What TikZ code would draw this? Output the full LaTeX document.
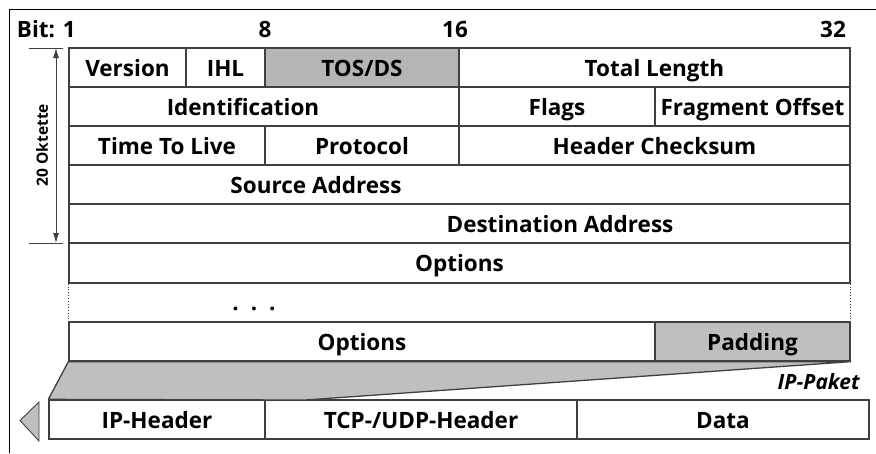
\documentclass[tikz,border=0pt]{standalone}
\usepackage{fontspec}
\setmainfont{Open Sans}
\usetikzlibrary{arrows.meta}
\definecolor{ln}{gray}{0.25}
\definecolor{gf}{gray}{0.75}
\definecolor{gt}{gray}{0.71}
\begin{document}
\begin{tikzpicture}[x=1pt,y=-1pt,
  every node/.style={font=\fontsize{22.5}{26}\selectfont\bfseries, inner sep=0pt},
  txt/.style={text height=17pt, text depth=0pt},
  cell/.style={txt, draw=ln, line width=1.3pt, minimum height=39pt},
  shaded/.style={fill=gf},
  tick/.style={draw=ln, line width=0.9pt}]
\useasboundingbox (0,0) rectangle (876,453);
\draw[line width=0.9pt] (9,453) -- (9,9) -- (876,9);
% bit labels
\node[txt, anchor=east] (b1) at (76,28.5) {Bit: 1};
\node[txt] (b8) at (265,28.5) {8};
\node[txt] (b16) at (455,28.5) {16};
\node[txt] (b32) at (833,28.5) {32};
% row 1
\node[cell, minimum width=117pt] (ver) at (127.5,67.5) {Version};
\node[cell, minimum width=79pt] (ihl) at (225.5,67.5) {IHL};
\node[cell, fill=gt, minimum width=194pt] (tos) at (362,67.5) {TOS/DS};
\node[cell, minimum width=391pt] (tl) at (654.5,67.5) {Total Length};
% row 2
\node[cell, minimum width=390pt] (id) at (264,106.5) {};
\node[txt] (idt) at (243,106.5) {Identification};
\node[cell, minimum width=196pt] (flags) at (557,106.5) {Flags};
\node[cell, minimum width=195pt] (frag) at (752.5,106.5) {Fragment Offset};
% row 3
\node[cell, minimum width=196pt] (ttl) at (167,145.5) {Time To Live};
\node[cell, minimum width=194pt] (proto) at (362,145.5) {Protocol};
\node[cell, minimum width=391pt] (hcs) at (654.5,145.5) {Header Checksum};
% row 4
\node[cell, minimum width=781pt] (src) at (459.5,184.5) {};
\node[txt] (srct) at (316,184.5) {Source Address};
% row 5
\node[cell, minimum width=781pt] (dst) at (459.5,223.5) {};
\node[txt] (dstt) at (560,223.5) {Destination Address};
% row 6
\node[cell, minimum width=781pt, minimum height=40pt] (opt) at (459.5,263) {Options};
% dotted region
\node (dots) at (254,309) {.\hspace{12pt}.\hspace{12pt}.};
% row 8
\node[cell, minimum width=586pt] (opt2) at (362,341.5) {Options};
\node[cell, shaded, minimum width=195pt] (pad) at (752.5,341.5) {Padding};
\draw[dotted, draw=ln, line width=0.9pt] (opt.south west) -- (opt2.north west);
\draw[dotted, draw=ln, line width=0.9pt] (opt.south east) -- (pad.north east);
% bottom row
\node[cell, minimum width=216pt] (iph) at (157,419.5) {IP-Header};
\node[cell, minimum width=312pt] (tcp) at (421,419.5) {TCP-/UDP-Header};
\node[cell, minimum width=292pt] (data) at (723,419.5) {Data};
% funnel
\coordinate (meet) at (305,400);
\draw[draw=ln, line width=1.3pt, fill=gf, line join=round] (opt2.south west) -- (pad.south east) -- (meet) -- (iph.north west) -- cycle;
\node[txt, anchor=east, font=\fontsize{21}{24}\selectfont\bfseries\itshape] (pak) at (860,380.5) {IP-Paket};
% left triangle
\draw[draw=ln, line width=0.9pt, fill=gf] (39,402) -- (20,420.5) -- (39,441) -- cycle;
% 20 Oktette
\coordinate (t1a) at (29,48);
\coordinate (t1b) at (63,48);
\coordinate (t2a) at (29,243);
\coordinate (t2b) at (63,243);
\draw[tick] (t1a) -- (t1b);
\draw[tick] (t2a) -- (t2b);
\coordinate (aa) at (56,48);
\coordinate (ab) at (56,243);
\draw[draw=ln, line width=0.9pt, {Latex[length=10pt,width=6pt]}-{Latex[length=10pt,width=6pt]}] (aa) -- (ab);
\node[rotate=90, font=\fontsize{15.5}{17}\selectfont\bfseries] (okt) at (42,145) {20 Oktette};
\end{tikzpicture}
\end{document}
